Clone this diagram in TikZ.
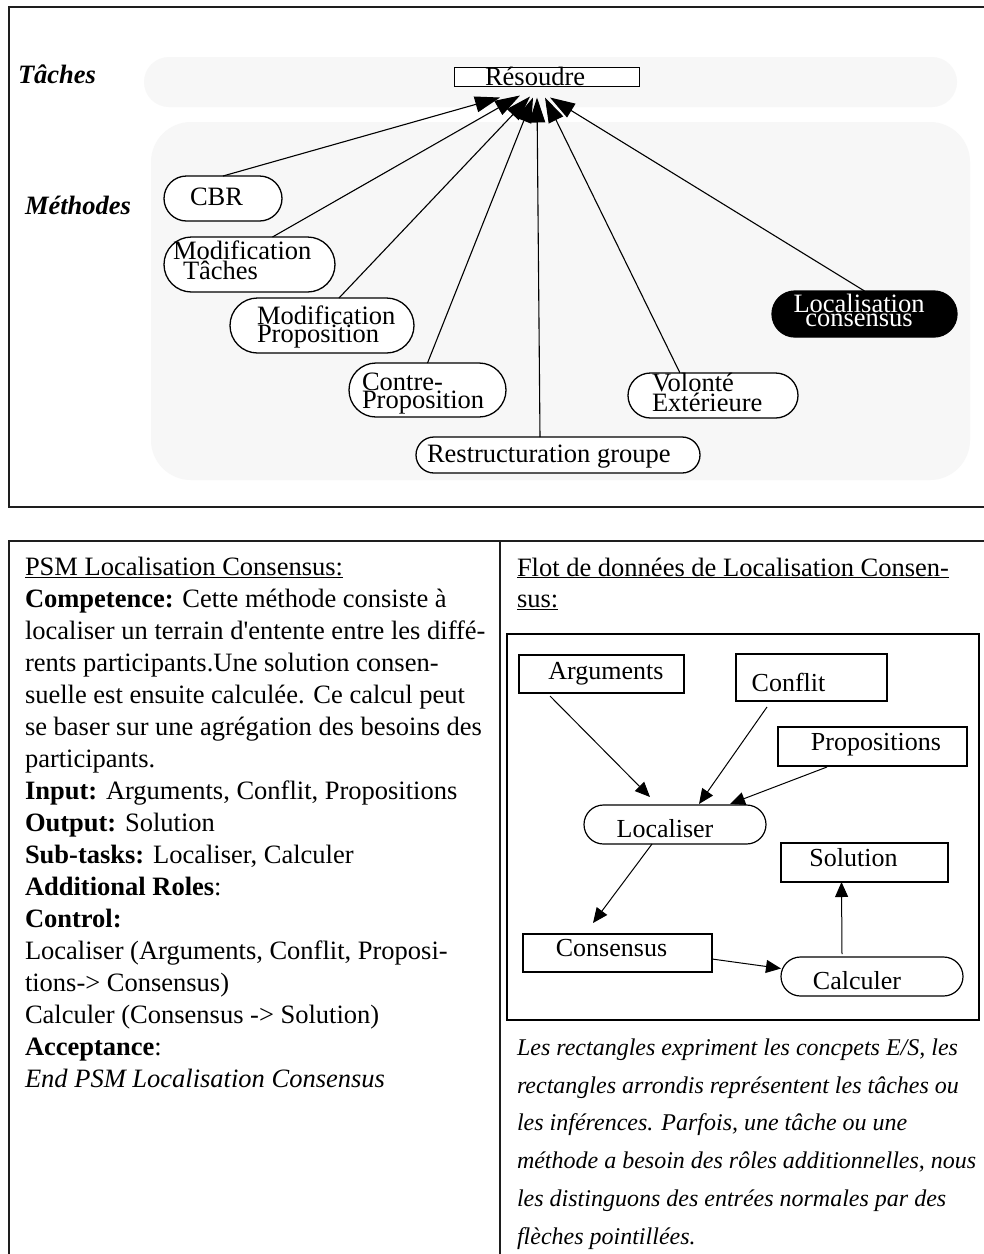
\documentclass[tikz,border=0pt]{standalone}
\usepackage{fontspec}
\setmainfont{Liberation Serif}
\usetikzlibrary{arrows.meta,shapes.misc,calc}
\definecolor{bandgray}{RGB}{247,247,247}
\definecolor{rulegray}{RGB}{30,30,30}
\newcommand{\qs}{\textquotesingle}
\begin{document}
\begin{tikzpicture}[x=1pt,y=-1pt,
  every node/.style={inner sep=0pt,outer sep=0pt},
  frameline/.style={draw=rulegray,line width=2pt},
  band/.style={fill=bandgray},
  pill/.style={draw,line width=1.3pt,rounded rectangle,fill=white},
  pilltext/.style={font=\fontsize{26.5}{18}\selectfont,align=left,anchor=base west},
  layer/.style={font=\fontsize{26.5}{32}\selectfont\bfseries\itshape,anchor=base west},
  topedge/.style={-{Triangle[length=25pt,width=16pt]},line width=1.1pt},
  concept/.style={draw,line width=1.2pt,rectangle,fill=white},
  task/.style={draw,line width=1.2pt,rounded rectangle,fill=white},
  flowtext/.style={font=\fontsize{26}{30}\selectfont,anchor=base},
  flowedge/.style={-{Triangle[length=15pt,width=13pt]},line width=1pt},
  body/.style={font=\fontsize{26.5}{32}\selectfont,align=left,anchor=base west},
]
\useasboundingbox (0,0) rectangle (984,1254);
\fill[white] (0,0) rectangle (984,1254);

% ---------- upper panel: decomposition of the task Resoudre
% (multi-line nodes are placed by the baseline of their last line)
\draw[frameline] (9,7) rectangle (992,507);
\fill[band,rounded corners=25pt] (144,57) rectangle (957,107);
\fill[band,rounded corners=40pt] (151,122) rectangle (970,480);

\node[layer] (lt) at (18,83) {Tâches};
\node[layer] (lm) at (25,214) {Méthodes};

\node[draw,line width=1.2pt,fill=white,minimum width=185pt,minimum height=19pt] (res) at (547,77) {};
\node[pilltext] (res-t) at (485,85) {Résoudre};

\node[pill,minimum width=118pt,minimum height=45pt] (cbr) at (223,198.5) {};
\node[pill,minimum width=171pt,minimum height=55pt] (mt) at (249.5,264.5) {};
\node[pill,minimum width=184pt,minimum height=55pt] (mp) at (322,325.5) {};
\node[pill,minimum width=157pt,minimum height=54pt] (cp) at (427.5,390) {};
\node[pill,minimum width=284pt,minimum height=36pt] (rg) at (558,455) {};
\node[pill,minimum width=170pt,minimum height=45pt] (ve) at (713,395.5) {};
\node[pill,fill=black,minimum width=185pt,minimum height=46pt] (lc) at (864.5,314) {};

\node[pilltext] (cbr-t) at (190,205) {CBR};
\node[pilltext] (mt-t) at (173,279) {Modification\\\hspace*{10pt}Tâches};
\node[pilltext] (mp-t) at (257,342) {Modification\\Proposition};
\node[pilltext] (cp-t) at (362,408) {Contre-\\Proposition};
\node[pilltext] (rg-t) at (427,462) {Restructuration groupe};
\node[pilltext] (ve-t) at (652,411) {Volonté\\Extérieure};
\node[font=\fontsize{26.5}{14.5}\selectfont,align=center,anchor=base,text=white] (lc-t) at (859,326.5) {Localisation\\consensus};

\draw[topedge] (cbr.north) -- ($(res.south)+(-47,11)$);
\draw[topedge] ($(mt.north)+(23,0)$) -- ($(res.south)+(-27,9)$);
\draw[topedge] ($(mp.north)+(17,0)$) -- ($(res.south)+(-17,10)$);
\draw[topedge] (cp.north) -- ($(res.south)+(-14,11)$);
\draw[topedge] ($(rg.north)+(-18,0)$) -- ($(res.south)+(-10,11)$);
\draw[topedge] ($(ve.north)+(-33,0)$) -- ($(res.south)+(-2,11)$);
\draw[topedge] (lc.north) -- ($(res.south)+(3,11)$);

% ---------- lower panels
\draw[frameline] (992,541) -- (9,541) -- (9,1262);
\draw[frameline] (500,541) -- (500,1262);

\node[body] (psm) at (25,1087) {%
\underline{PSM Localisation Consensus:}\\
\textbf{Competence:} Cette méthode consiste à\\
localiser un terrain d\qs entente entre les diffé-\\
rents participants.Une solution consen-\\
suelle est ensuite calculée. Ce calcul peut\\
se baser sur une agrégation des besoins des\\
participants.\\
\textbf{Input:} Arguments, Conflit, Propositions\\
\textbf{Output:} Solution\\
\textbf{Sub-tasks:} Localiser, Calculer\\
\textbf{Additional Roles}:\\
\textbf{Control:}\\
Localiser (Arguments, Conflit, Proposi-\\
tions-> Consensus)\\
Calculer (Consensus -> Solution)\\
\textbf{Acceptance}:\\
\textit{End PSM Localisation Consensus}};

\node[body,font=\fontsize{26.5}{31.5}\selectfont] (flot) at (517,607.5) {%
\underline{Flot de données de Localisation Consen-}\\
\underline{sus:}};

% data flow of the method
\draw[line width=1.3pt] (507,634) rectangle (979,1020);

\node[concept,minimum width=165pt,minimum height=38pt] (arg) at (601.5,674) {};
\node[concept,minimum width=151pt,minimum height=47pt] (cnf) at (811.5,677.5) {};
\node[concept,minimum width=189pt,minimum height=39pt] (prp) at (872.5,746.5) {};
\node[task,minimum width=182pt,minimum height=39pt] (loc) at (675,824.5) {};
\node[concept,minimum width=167pt,minimum height=39pt] (sol) at (864.5,862.5) {};
\node[concept,minimum width=189pt,minimum height=38pt] (cns) at (617.5,953) {};
\node[task,minimum width=182pt,minimum height=39pt] (clc) at (872,976.5) {};

\node[flowtext] (arg-t) at (606,679) {Arguments};
\node[flowtext] (cnf-t) at (788.5,691) {Conflit};
\node[flowtext] (prp-t) at (876,750) {Propositions};
\node[flowtext] (loc-t) at (665,837) {Localiser};
\node[flowtext] (sol-t) at (853.5,866) {Solution};
\node[flowtext] (cns-t) at (611.5,956.5) {Consensus};
\node[flowtext] (clc-t) at (857,989) {Calculer};

\draw[flowedge] ($(arg.south)+(-51.5,3)$) -- ($(loc.north)+(-25,-8)$);
\draw[flowedge] ($(cnf.south)+(-44.5,6)$) -- ($(loc.north)+(24,-1)$);
\draw[flowedge] ($(prp.south)+(-45.5,1)$) -- ($(loc.north)+(55,-1)$);
\draw[flowedge] ($(loc.south)+(-23,0)$) -- ($(cns.north)+(-24.5,-11)$);
\draw[flowedge] ($(cns.east)+(0,6)$) -- ($(clc.west)+(0,-8)$);
\draw[flowedge] ($(clc.north)+(-30,-3)$) -- ($(sol.south)+(-23,0)$);

\node[body,font=\fontsize{24}{37.7}\selectfont\itshape] (legend) at (517,1244) {%
Les rectangles expriment les concpets E/S, les\\
rectangles arrondis représentent les tâches ou\\
les inférences. Parfois, une tâche ou une\\
méthode a besoin des rôles additionnelles, nous\\
les distinguons des entrées normales par des\\
flèches pointillées.};
\end{tikzpicture}
\end{document}
